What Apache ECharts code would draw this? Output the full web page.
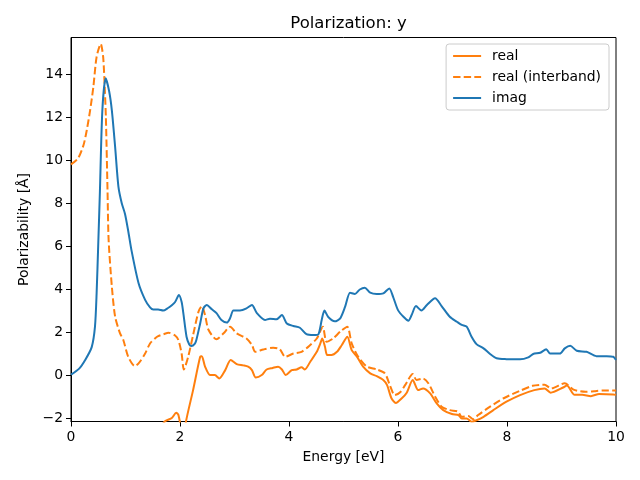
<!DOCTYPE html>
<html><head><meta charset="utf-8">
<script src="https://cdn.jsdelivr.net/npm/echarts@6/dist/echarts.min.js"></script>
<style>html,body{margin:0;padding:0;background:#fff}#c{width:640px;height:480px}</style>
</head><body><div id="c"></div>
<script>
const titleText = 'Polarization: y';
const xName = 'Energy [eV]';
const yName = 'Polarizability [Å]';
const xTicks = [0, 2, 4, 6, 8, 10];
const yTicks = [-2, 0, 2, 4, 6, 8, 10, 12, 14];

const realE = [0.3,0.6,1.0,1.3,1.55,1.72,1.85,1.93,1.97,2.02,2.06,2.11,2.24,2.37,2.4,2.46,2.55,2.64,2.72,2.83,2.93,3.04,3.16,3.25,3.32,3.39,3.5,3.59,3.7,3.8,3.87,3.94,4.05,4.14,4.23,4.29,4.39,4.51,4.57,4.61,4.66,4.7,4.78,4.88,4.97,5.07,5.15,5.24,5.36,5.49,5.61,5.73,5.8,5.88,5.96,6.07,6.16,6.27,6.37,6.46,6.59,6.71,6.83,6.99,7.11,7.17,7.26,7.35,7.44,7.57,7.75,7.99,8.24,8.5,8.69,8.8,9.03,9.1,9.24,9.38,9.54,9.69,9.95,10];
const realV = [-40,-20,-8,-4.5,-2.9,-2.16,-2.0,-1.75,-1.85,-2.5,-3.2,-2.16,-0.7,0.85,0.88,0.39,0,0,-0.16,0.23,0.7,0.51,0.45,0.39,0.23,-0.11,0,0.26,0.33,0.39,0.26,0,0.23,0.26,0.36,0.26,0.62,1.08,1.44,1.7,1.32,0.93,0.93,1.08,1.4,1.78,1.16,0.88,0.39,0.08,-0.05,-0.23,-0.47,-1.08,-1.3,-1.08,-0.82,-0.23,-0.7,-0.62,-0.85,-1.32,-1.63,-1.81,-1.86,-2.02,-2.02,-2.17,-2.1,-1.94,-1.63,-1.24,-0.93,-0.7,-0.62,-0.82,-0.58,-0.48,-0.92,-0.92,-0.98,-0.88,-0.9,-0.92];

const interE = [0,0.13,0.23,0.29,0.35,0.41,0.47,0.545,0.59,0.62,0.64,0.67,0.69,0.75,0.81,0.9,0.96,1.05,1.17,1.24,1.36,1.45,1.54,1.6,1.7,1.79,1.91,1.97,2.03,2.07,2.15,2.24,2.34,2.4,2.46,2.52,2.67,2.8,2.92,3.04,3.22,3.32,3.38,3.53,3.71,3.83,3.93,4.08,4.23,4.39,4.51,4.62,4.69,4.81,4.94,5.07,5.15,5.27,5.43,5.61,5.76,5.85,5.94,6.04,6.13,6.27,6.34,6.46,6.56,6.68,6.8,6.95,7.1,7.17,7.29,7.38,7.47,7.69,7.93,8.24,8.47,8.69,8.81,9.06,9.22,9.44,9.6,9.76,10];
const interV = [9.8,10.08,10.7,11.4,12.3,13.4,14.8,15.4,14.8,13.3,12.0,8.6,6.3,4.1,2.71,1.94,1.63,0.85,0.42,0.54,1.0,1.47,1.7,1.81,1.9,1.97,1.84,1.63,1.0,0.26,0.85,1.86,2.95,3.21,2.79,2.12,1.66,1.94,2.25,1.94,1.7,1.4,1.08,1.19,1.27,1.2,0.85,1.0,1.08,1.4,1.7,2.25,1.55,1.7,2.02,2.25,1.47,0.85,0.39,0.26,0.08,-0.47,-0.93,-0.8,-0.47,0.05,-0.23,-0.16,-0.39,-1.0,-1.47,-1.63,-1.7,-1.94,-1.91,-2.06,-1.86,-1.47,-1.09,-0.73,-0.5,-0.45,-0.62,-0.38,-0.68,-0.78,-0.75,-0.72,-0.72];

const imagE = [0,0.15,0.26,0.38,0.44,0.47,0.5,0.53,0.575,0.636,0.7,0.75,0.81,0.87,0.93,0.99,1.05,1.11,1.24,1.36,1.45,1.51,1.6,1.69,1.78,1.85,1.91,1.98,2.03,2.06,2.12,2.17,2.21,2.27,2.3,2.37,2.43,2.49,2.58,2.67,2.76,2.86,2.92,2.98,3.1,3.22,3.32,3.41,3.56,3.65,3.77,3.87,3.96,4.08,4.2,4.32,4.45,4.54,4.6,4.65,4.72,4.84,4.94,5.03,5.12,5.21,5.3,5.39,5.49,5.61,5.73,5.84,5.91,6.0,6.1,6.19,6.25,6.33,6.43,6.53,6.68,6.8,6.95,7.08,7.17,7.26,7.35,7.44,7.57,7.69,7.81,7.99,8.24,8.39,8.48,8.61,8.72,8.79,8.97,9.06,9.16,9.28,9.46,9.64,9.83,9.95,10];
const imagV = [0.02,0.3,0.7,1.3,2.25,3.8,6.1,8.5,12.3,13.8,13.2,12.3,10.6,8.76,8.0,7.5,6.7,5.8,4.27,3.5,3.15,3.05,3.05,3.0,3.12,3.25,3.4,3.72,3.4,2.9,1.78,1.42,1.35,1.45,1.63,2.4,3.1,3.26,3.07,2.88,2.56,2.44,2.65,3.0,3.0,3.1,3.26,2.88,2.56,2.62,2.59,2.79,2.4,2.28,2.2,1.9,1.86,1.9,2.56,3.0,2.7,2.5,2.64,3.18,3.83,3.77,3.98,4.06,3.83,3.77,3.8,4.03,3.64,3.02,2.71,2.53,2.79,3.21,3.0,3.26,3.57,3.21,2.71,2.48,2.33,2.25,1.78,1.44,1.24,0.98,0.78,0.74,0.73,0.82,0.98,1.04,1.2,1.0,1.0,1.24,1.36,1.13,1.08,0.88,0.88,0.85,0.7];

const zip = (a, b) => a.map((v, i) => [v, b[i]]);
const FONT = 'DejaVu Sans';
const minus = v => String(v).replace('-', '\u2212');

const chart = echarts.init(document.getElementById('c'), null, {renderer: 'canvas'});
chart.setOption({
  animation: false,
  backgroundColor: '#fff',
  title: {
    text: titleText, left: 343.5, top: 10, textAlign: 'center',
    textStyle: {fontFamily: FONT, fontSize: 16.5, fontWeight: 'normal', color: '#000'}
  },
  legend: {
    orient: 'vertical', right: 31, top: 44,
    padding: [5, 8, 5, 6], itemGap: 7, itemWidth: 28, itemHeight: 14,
    backgroundColor: 'rgba(255,255,255,0.8)', borderColor: '#cccccc', borderWidth: 1, borderRadius: 3,
    itemStyle: {opacity: 0},
    textStyle: {fontFamily: FONT, fontSize: 13.9, color: '#000', padding: [0, 0, 0, 6]},
    data: ['real', 'real (interband)', 'imag']
  },
  grid: {left: 71, right: 24, top: 37.5, bottom: 58.5, show: true, borderColor: '#000', borderWidth: 1, backgroundColor: 'transparent'},
  xAxis: {
    type: 'value', min: 0, max: 10, interval: 2,
    name: xName, nameLocation: 'middle', nameGap: 29,
    nameTextStyle: {fontFamily: FONT, fontSize: 13.9, color: '#000'},
    axisLine: {show: true, onZero: false, lineStyle: {color: '#000', width: 1}},
    axisTick: {show: true, length: 5, lineStyle: {color: '#000'}},
    axisLabel: {fontFamily: FONT, fontSize: 13.9, color: '#000', margin: 9, formatter: v => minus(v)},
    splitLine: {show: false}
  },
  yAxis: {
    type: 'value', min: -2.16, max: 15.7,
    name: yName, nameLocation: 'middle', nameGap: 38,
    nameTextStyle: {fontFamily: FONT, fontSize: 13.9, color: '#000'},
    axisLine: {show: true, onZero: false, lineStyle: {color: '#000', width: 1}},
    axisTick: {show: true, length: 5, lineStyle: {color: '#000'}, customValues: yTicks},
    axisLabel: {fontFamily: FONT, fontSize: 13.9, color: '#000', margin: 8, customValues: yTicks, formatter: v => minus(v)},
    splitLine: {show: false}
  },
  series: [
    {name: 'real', type: 'line', data: zip(realE, realV), showSymbol: false, symbol: 'none', smooth: 0.25, clip: true,
     lineStyle: {color: '#ff7f0e', width: 2}, itemStyle: {color: '#ff7f0e'}},
    {name: 'real (interband)', type: 'line', data: zip(interE, interV), showSymbol: false, symbol: 'none', smooth: 0.25, clip: true,
     lineStyle: {color: '#ff7f0e', width: 2, type: [7.4, 3.2]}, itemStyle: {color: '#ff7f0e'}},
    {name: 'imag', type: 'line', data: zip(imagE, imagV), showSymbol: false, symbol: 'none', smooth: 0.25, clip: true,
     lineStyle: {color: '#1f77b4', width: 2}, itemStyle: {color: '#1f77b4'}}
  ]
});
</script></body></html>
